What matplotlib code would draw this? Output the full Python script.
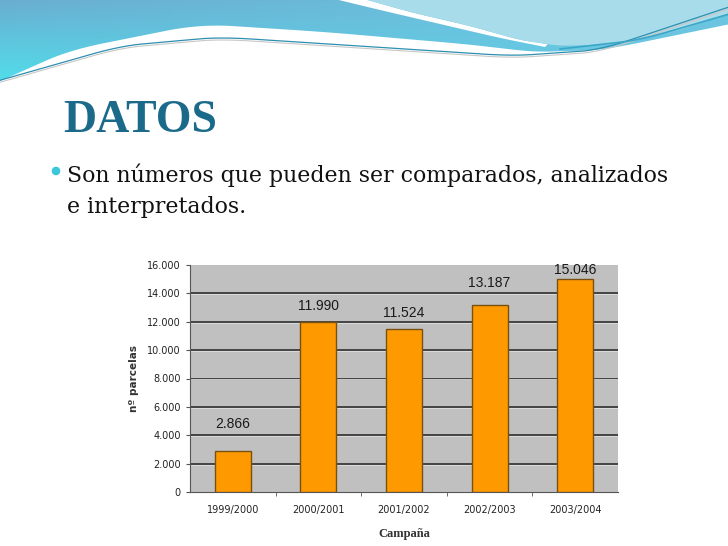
import numpy as np
import matplotlib.pyplot as plt
from matplotlib.patches import Polygon, Circle
from matplotlib.ticker import FuncFormatter

# datos del grafico
campanas = ['1999/2000', '2000/2001', '2001/2002', '2002/2003', '2003/2004']
parcelas = [2866, 11990, 11524, 13187, 15046]
etiquetas = ['2.866', '11.990', '11.524', '13.187', '15.046']
desfase_etiqueta = [15, 6.5, 6, 11, 1]   # separacion etiqueta-barra (pt)

W, H = 728, 546
fig = plt.figure(figsize=(W / 100, H / 100), dpi=100)
fig.patch.set_facecolor('white')

# fondo de la diapositiva (coordenadas en pixeles)
bg = fig.add_axes([0, 0, 1, 1])
bg.set_xlim(0, W)
bg.set_ylim(H, 0)
bg.axis('off')


def curva(pts, n=200):
    # curva suave a partir de puntos de control
    pts = np.array(pts, dtype=float)
    t = np.linspace(0, 1, len(pts))
    tt = np.linspace(0, 1, n)
    x = np.interp(tt, t, pts[:, 0])
    y = np.interp(tt, t, pts[:, 1])
    k = np.ones(15) / 15
    xs = np.convolve(np.pad(x, 7, mode='reflect', reflect_type='odd'), k, mode='valid')
    ys = np.convolve(np.pad(y, 7, mode='reflect', reflect_type='odd'), k, mode='valid')
    return np.column_stack([xs, ys])


def degradado(poly, c1, c2, c3):
    gx, gy = np.meshgrid(np.linspace(0, 1, 200), np.linspace(0, 1, 60))
    c1, c2, c3 = (np.array(plt.matplotlib.colors.to_rgb(c)) for c in (c1, c2, c3))
    img = (c1 * (1 - gy[..., None]) * (1 - gx[..., None])
           + c2 * gy[..., None] * (1 - gx[..., None])
           + c3 * gx[..., None])
    im = bg.imshow(img, extent=[0, W, 90, 0], aspect='auto', zorder=1)
    p = Polygon(poly, closed=True, facecolor='none', edgecolor='none')
    bg.add_patch(p)
    im.set_clip_path(p)


borde_azul = curva([(-20, 90), (70, 50), (200, 24), (325, 32), (464, 44),
                    (534, 52), (604, 50), (750, 20)])
degradado(np.vstack([[[-20, 0]], borde_azul, [[760, 0]]]), '#6aaed2', '#4fe2ec', '#6cc6e2')

borde_blanco = curva([(318, -5), (380, 10), (440, 24), (500, 38), (545, 47)], 80)
borde_claro = curva([(350, -5), (410, 12), (470, 26), (520, 40), (560, 46),
                     (620, 44), (680, 30), (750, 6)])
cuna = np.vstack([borde_blanco, borde_claro[borde_claro[:, 0] < 548][::-1]])
bg.add_patch(Polygon(cuna, closed=True, facecolor='white', edgecolor='none', zorder=2))
claro = np.vstack([borde_claro, [[760, -5]]])
bg.add_patch(Polygon(claro, closed=True, facecolor='#a9dcea', edgecolor='none', zorder=2))

linea = curva([(-20, 86), (120, 46), (220, 37), (360, 46), (511, 56), (600, 50), (750, 0)])
bg.plot(linea[:, 0], linea[:, 1], color='#2f8fb0', lw=0.9, zorder=3)
bg.plot(linea[:, 0], linea[:, 1] + 2, color='#c8c8c8', lw=0.8, zorder=3)
linea2 = curva([(560, 49), (640, 40), (750, 8)], 60)
bg.plot(linea2[:, 0], linea2[:, 1], color='#3aa6c8', lw=1.2, zorder=3)

# titulo y texto
bg.text(63, 132, 'DATOS', fontsize=33, fontweight='bold', family='Liberation Serif',
        color='#1b6a8a', va='baseline', ha='left', zorder=4)
bg.add_patch(Circle((56, 171), 3.6, color='#3cc8da', zorder=4))
bg.text(67, 182, 'Son números que pueden ser comparados, analizados',
        fontsize=15.8, family='DejaVu Serif', color='#111111', va='baseline', zorder=4)
bg.text(67, 213, 'e interpretados.',
        fontsize=15.8, family='DejaVu Serif', color='#111111', va='baseline', zorder=4)

# grafico de barras
ax = fig.add_axes([190 / W, 1 - 492 / H, 428 / W, 227 / H])
ax.set_facecolor('#c0c0c0')
x = np.arange(len(campanas))
ax.bar(x, parcelas, width=0.42, color='#ff9900', edgecolor='#7a5010', linewidth=1.0, zorder=3)
ax.set_xlim(-0.5, len(campanas) - 0.5)
ax.set_ylim(0, 16000)
ax.set_yticks(np.arange(0, 16001, 2000))
ax.yaxis.set_major_formatter(FuncFormatter(lambda v, p: f'{int(v):,}'.replace(',', '.')))
for v in np.arange(2000, 16000, 2000):
    ax.axhline(v, color='#3a3a3a', lw=1.3, zorder=1)
    ax.axhline(v - 70, color='#e0e0e0', lw=0.6, zorder=1)
ax.set_xticks(x)
ax.set_xticklabels(campanas)
ax.set_xticks(np.arange(0.5, len(campanas) - 0.5), minor=True)
ax.tick_params(axis='x', which='major', length=0, pad=9, labelsize=7, labelcolor='#222222')
ax.tick_params(axis='x', which='minor', length=3, color='#555555')
ax.tick_params(axis='y', length=3, labelsize=7, labelcolor='#222222', color='#555555')
for s in ['top', 'right']:
    ax.spines[s].set_visible(False)
ax.spines['left'].set_color('#555555')
ax.spines['bottom'].set_color('#555555')
ax.set_xlabel('Campaña', fontsize=9, family='Liberation Serif', fontweight='bold',
              color='#333333', labelpad=10)
ax.set_ylabel('nº parcelas', fontsize=7.5, fontweight='bold', color='#333333', labelpad=6)
for xi, v, t, d in zip(x, parcelas, etiquetas, desfase_etiqueta):
    ax.annotate(t, (xi, v), xytext=(0, d), textcoords='offset points', ha='center',
                va='bottom', fontsize=10, family='Liberation Sans', color='#1a1a1a',
                zorder=5, annotation_clip=False)

fig.savefig('out.png', dpi=100)
